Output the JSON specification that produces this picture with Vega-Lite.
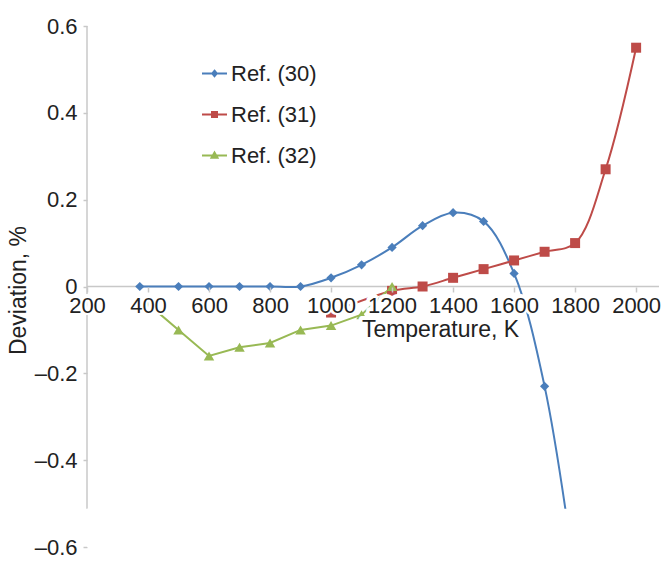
{
  "$schema": "https://vega.github.io/schema/vega-lite/v6.json",
  "width": 572,
  "height": 521,
  "autosize": {"type": "none"},
  "padding": {"left": 87, "top": 26, "right": 3, "bottom": 15},
  "background": "white",
  "config": {
    "view": {"stroke": null},
    "font": "Liberation Sans",
    "axis": {"labelFont": "Liberation Sans", "titleFont": "Liberation Sans", "labelColor": "#222222", "titleColor": "#222222", "grid": false, "titleFontWeight": "normal"},
    "legend": {"labelFont": "Liberation Sans"}
  },
  "datasets": {
    "ticks": [{"T": 200}, {"T": 400}, {"T": 600}, {"T": 800}, {"T": 1000}, {"T": 1200}, {"T": 1400}, {"T": 1600}, {"T": 1800}, {"T": 2000}]
  },
  "data": {
    "values": [
      {"series": "Ref. (30)", "T": 373, "dev": 0},
      {"series": "Ref. (30)", "T": 500, "dev": 0},
      {"series": "Ref. (30)", "T": 600, "dev": 0},
      {"series": "Ref. (30)", "T": 700, "dev": 0},
      {"series": "Ref. (30)", "T": 800, "dev": 0},
      {"series": "Ref. (30)", "T": 900, "dev": 0},
      {"series": "Ref. (30)", "T": 1000, "dev": 0.02},
      {"series": "Ref. (30)", "T": 1100, "dev": 0.05},
      {"series": "Ref. (30)", "T": 1200, "dev": 0.09},
      {"series": "Ref. (30)", "T": 1300, "dev": 0.14},
      {"series": "Ref. (30)", "T": 1400, "dev": 0.17},
      {"series": "Ref. (30)", "T": 1500, "dev": 0.15},
      {"series": "Ref. (30)", "T": 1600, "dev": 0.03},
      {"series": "Ref. (30)", "T": 1700, "dev": -0.23},
      {"series": "Ref. (30)", "T": 1800, "dev": -0.67},
      {"series": "Ref. (31)", "T": 1000, "dev": -0.06},
      {"series": "Ref. (31)", "T": 1200, "dev": -0.01},
      {"series": "Ref. (31)", "T": 1300, "dev": 0.0},
      {"series": "Ref. (31)", "T": 1400, "dev": 0.02},
      {"series": "Ref. (31)", "T": 1500, "dev": 0.04},
      {"series": "Ref. (31)", "T": 1600, "dev": 0.06},
      {"series": "Ref. (31)", "T": 1700, "dev": 0.08},
      {"series": "Ref. (31)", "T": 1800, "dev": 0.10},
      {"series": "Ref. (31)", "T": 1900, "dev": 0.27},
      {"series": "Ref. (31)", "T": 2000, "dev": 0.55},
      {"series": "Ref. (32)", "T": 400, "dev": -0.04},
      {"series": "Ref. (32)", "T": 500, "dev": -0.10},
      {"series": "Ref. (32)", "T": 600, "dev": -0.16},
      {"series": "Ref. (32)", "T": 700, "dev": -0.14},
      {"series": "Ref. (32)", "T": 800, "dev": -0.13},
      {"series": "Ref. (32)", "T": 900, "dev": -0.10},
      {"series": "Ref. (32)", "T": 1000, "dev": -0.09},
      {"series": "Ref. (32)", "T": 1100, "dev": -0.065},
      {"series": "Ref. (32)", "T": 1200, "dev": 0.0}
    ]
  },
  "layer": [
    {
      "data": {"values": [{}]},
      "mark": {"type": "rule", "color": "#c8c8c8", "strokeWidth": 1.5},
      "encoding": {
        "x": {"datum": 200, "type": "quantitative", "scale": {"domain": [200, 2075], "nice": false, "zero": false}},
        "x2": {"datum": 2075},
        "y": {"datum": 0, "type": "quantitative", "scale": {"domain": [-0.6, 0.6], "nice": false, "zero": false}}
      }
    },
    {
      "data": {"values": [{}]},
      "mark": {"type": "rule", "color": "#c8c8c8", "strokeWidth": 1.5},
      "encoding": {
        "x": {"datum": 200, "type": "quantitative"},
        "y": {"datum": -0.512, "type": "quantitative"},
        "y2": {"datum": 0.6}
      }
    },
    {
      "transform": [{"filter": "datum.series === 'Ref. (30)'"}],
      "mark": {"type": "line", "interpolate": "catmull-rom", "strokeWidth": 2, "clip": true},
      "encoding": {
        "x": {"field": "T", "type": "quantitative"},
        "y": {"field": "dev", "type": "quantitative"},
        "stroke": {"field": "series", "type": "nominal",
          "scale": {"domain": ["Ref. (30)", "Ref. (31)", "Ref. (32)"], "range": ["#4a7ebb", "#be4b48", "#98b954"]},
          "legend": {
            "orient": "none", "legendX": 114, "legendY": 34, "title": null, "padding": 0,
            "labelFontSize": 22, "labelColor": "#222222", "labelOffset": 3, "rowPadding": 16, "symbolSize": 625,
            "symbolOpacity": 1, "symbolStrokeWidth": 2,
            "symbolType": {"expr": "datum.value === 'Ref. (30)' ? 'M-1,0H1M0,-0.22L0.18,0L0,0.22L-0.18,0Z' : datum.value === 'Ref. (31)' ? 'M-1,0H1M-0.2,-0.2H0.2V0.2H-0.2Z' : 'M-1,0H1M0,-0.24L0.24,0.18H-0.24Z'"},
            "symbolFillColor": {"expr": "scale('stroke', datum.value)"}
          }}
      }
    },
    {
      "transform": [{"filter": "datum.series === 'Ref. (31)'"}],
      "mark": {"type": "line", "interpolate": "catmull-rom", "strokeWidth": 2, "clip": true},
      "encoding": {
        "x": {"field": "T", "type": "quantitative"},
        "y": {"field": "dev", "type": "quantitative"},
        "stroke": {"field": "series", "type": "nominal"}
      }
    },
    {
      "transform": [{"filter": "datum.series === 'Ref. (32)'"}],
      "mark": {"type": "line", "interpolate": "linear", "strokeWidth": 2, "clip": true},
      "encoding": {
        "x": {"field": "T", "type": "quantitative"},
        "y": {"field": "dev", "type": "quantitative"},
        "stroke": {"field": "series", "type": "nominal"}
      }
    },
    {
      "transform": [{"filter": "datum.series === 'Ref. (30)'"}],
      "mark": {"type": "point", "shape": "diamond", "filled": true, "opacity": 1, "color": "#4a7ebb", "size": 85, "clip": true},
      "encoding": {
        "x": {"field": "T", "type": "quantitative"},
        "y": {"field": "dev", "type": "quantitative"}
      }
    },
    {
      "transform": [{"filter": "datum.series === 'Ref. (31)'"}],
      "mark": {"type": "point", "shape": "square", "filled": true, "opacity": 1, "color": "#be4b48", "size": 100, "clip": true},
      "encoding": {
        "x": {"field": "T", "type": "quantitative"},
        "y": {"field": "dev", "type": "quantitative"}
      }
    },
    {
      "transform": [{"filter": "datum.series === 'Ref. (32)'"}],
      "mark": {"type": "point", "shape": "triangle-up", "filled": true, "opacity": 1, "color": "#98b954", "size": 110, "clip": true},
      "encoding": {
        "x": {"field": "T", "type": "quantitative",
          "axis": {
            "orient": "bottom", "offset": -260, "domain": false, "ticks": true, "tickSize": 5, "tickColor": "#c8c8c8", "tickWidth": 1.5,
            "values": [200, 400, 600, 800, 1000, 1200, 1400, 1600, 1800, 2000], "format": "d",
            "labelFontSize": 22, "labelPadding": 3, "labelFlush": false, "labelOverlap": false,
            "title": "Temperature, K", "titleFontSize": 23, "titleX": 353, "titleY": 49,
            "titleBaseline": "alphabetic", "titleAlign": "center", "zindex": 1
          }},
        "y": {"field": "dev", "type": "quantitative",
          "axis": {
            "orient": "left", "domain": false, "ticks": true, "tickSize": 4, "tickColor": "#c8c8c8", "tickWidth": 1.5,
            "values": [-0.6, -0.4, -0.2, 0, 0.2, 0.4, 0.6],
            "labelExpr": "abs(datum.value) < 1e-9 ? '0' : (datum.value < 0 ? '–' : '') + format(abs(datum.value), '.1f')",
            "labelFontSize": 22, "labelPadding": 6, "labelFlush": false, "labelOverlap": false,
            "title": "Deviation, %", "titleFontSize": 23, "titleAngle": -90, "titleX": -62, "titleY": 264,
            "titleBaseline": "alphabetic", "titleAlign": "center"
          }}
      }
    },
    {
      "data": {"name": "ticks"},
      "mark": {"type": "text", "font": "Liberation Sans", "fontSize": 22, "baseline": "top", "align": "center", "dy": 8,
        "color": "white", "stroke": "white", "strokeWidth": 6, "strokeJoin": "round"},
      "encoding": {
        "x": {"field": "T", "type": "quantitative"},
        "y": {"datum": 0, "type": "quantitative"},
        "text": {"field": "T", "type": "quantitative", "format": "d"}
      }
    },
    {
      "data": {"values": [{}]},
      "mark": {"type": "text", "text": "Temperature, K", "font": "Liberation Sans", "fontSize": 23, "baseline": "alphabetic", "align": "center", "dy": 49,
        "color": "white", "stroke": "white", "strokeWidth": 6, "strokeJoin": "round"},
      "encoding": {
        "x": {"datum": 1357, "type": "quantitative"},
        "y": {"datum": 0, "type": "quantitative"}
      }
    },
    {
      "data": {"values": [{}]},
      "mark": {"type": "rect", "color": "white", "opacity": 1},
      "encoding": {
        "x": {"datum": 200, "type": "quantitative"},
        "x2": {"datum": 2075},
        "y": {"datum": -0.6, "type": "quantitative"},
        "y2": {"datum": -0.512}
      }
    }
  ]
}
